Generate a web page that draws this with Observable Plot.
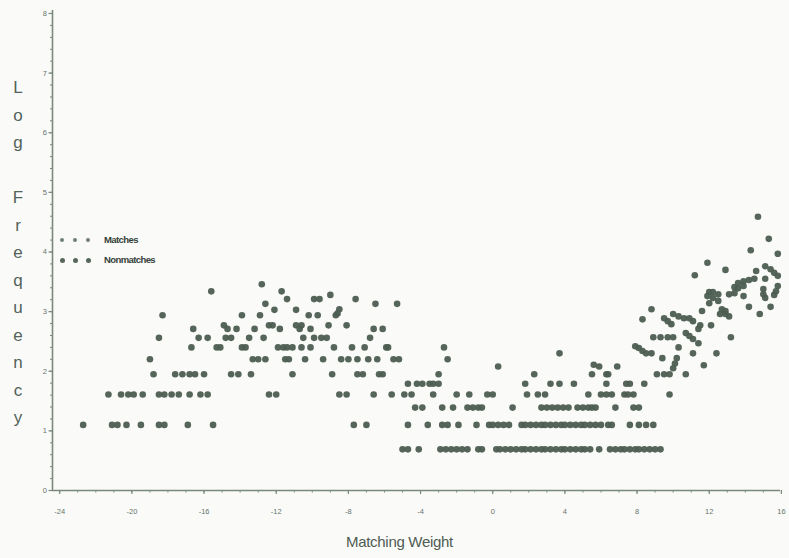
<!DOCTYPE html>
<html>
<head>
<meta charset="utf-8">
<script src="https://cdn.jsdelivr.net/npm/d3@7"></script>
<script src="https://cdn.jsdelivr.net/npm/@observablehq/plot@0.6"></script>
<style>
  html, body { margin: 0; padding: 0; background: #fafbf8; }
  #wrap { position: relative; width: 789px; height: 558px; overflow: hidden; font-family: "Liberation Sans", Arial, sans-serif; }
  #ytitle { position: absolute; left: 9px; top: 74px; width: 18px; text-align: center; white-space: pre; font-size: 17px; line-height: 27.5px; color: #53625a; }
  #xtitle { position: absolute; left: 346px; top: 533px; font-size: 15px; color: #4f5b53; letter-spacing: -0.3px; }
  .leg { position: absolute; left: 58px; height: 12px; font-size: 9.5px; color: #35413a; letter-spacing: -0.6px; font-weight: bold; }
  .leg span.d { position: absolute; top: 3px; width: 5px; height: 5px; border-radius: 50%; background: #56665a; }
  .leg span.t { position: absolute; left: 46px; top: -1px; white-space: nowrap; }
</style>
</head>
<body>
<div id="wrap">
  <div id="chart"></div>
  <div id="ytitle"></div>
  <div id="xtitle"></div>
  <div id="legend"></div>
</div>
<script>
// ---- axis ticks ----
const xTicks = [-24, -20, -16, -12, -8, -4, 0, 4, 8, 12, 16];
const yTicks = [0, 1, 2, 3, 4, 5, 6, 7, 8];
const xDomain = [-24.4, 15.95];
const yDomain = [0, 8.05];
const seriesNames = ["Matches", "Nonmatches"];
const xTitle = "Matching Weight";
const yTitle = "Log Frequency";

// ---- Nonmatches: [matching weight, log frequency] ----
const nonmatches = [
  // log 2
  [-5.0,0.69],[-4.7,0.69],[-4.1,0.69],[-2.9,0.69],[-2.6,0.69],[-2.3,0.69],[-2.0,0.69],[-1.7,0.69],[-1.4,0.69],
  [-0.8,0.69],[-0.6,0.69],[0.2,0.69],[0.4,0.69],[0.7,0.69],[1.0,0.69],[1.3,0.69],[1.6,0.69],[1.8,0.69],[2.1,0.69],
  [2.4,0.69],[2.7,0.69],[2.9,0.69],[3.2,0.69],[3.5,0.69],[3.8,0.69],[4.0,0.69],[4.3,0.69],[4.6,0.69],[4.9,0.69],
  // log 3
  [-22.7,1.10],[-21.1,1.10],[-20.8,1.10],[-20.3,1.10],[-19.5,1.10],[-18.5,1.10],[-18.2,1.10],[-16.9,1.10],[-15.5,1.10],
  [-7.7,1.10],[-7.0,1.10],[-4.7,1.10],[-3.6,1.10],[-2.8,1.10],[-2.5,1.10],[-1.9,1.10],[-0.9,1.10],[-0.2,1.10],[0.0,1.10],
  [0.3,1.10],[0.6,1.10],[0.9,1.10],[1.6,1.10],[1.8,1.10],[2.1,1.10],[2.4,1.10],[2.7,1.10],[2.9,1.10],[3.2,1.10],
  [3.5,1.10],[3.8,1.10],[4.0,1.10],[4.3,1.10],[4.6,1.10],[4.9,1.10],
  // log 4
  [-4.3,1.39],[-3.9,1.39],[-2.8,1.39],[-2.2,1.39],[-1.4,1.39],[-1.1,1.39],[-0.8,1.39],[-0.6,1.39],[1.1,1.39],
  [2.7,1.39],[3.0,1.39],[3.3,1.39],[3.6,1.39],[3.9,1.39],[4.2,1.39],[4.7,1.39],
  // log 5
  [-21.3,1.61],[-20.6,1.61],[-20.2,1.61],[-19.9,1.61],[-19.4,1.61],[-18.5,1.61],[-18.2,1.61],[-17.8,1.61],[-17.4,1.61],
  [-16.8,1.61],[-16.2,1.61],[-15.8,1.61],[-12.4,1.61],[-12.0,1.61],[-8.5,1.61],[-8.1,1.61],[-6.6,1.61],[-5.6,1.61],
  [-4.9,1.61],[-4.5,1.61],[-3.3,1.61],[-2.0,1.61],[-1.3,1.61],[-0.3,1.61],[0.0,1.61],[1.9,1.61],[2.5,1.61],[2.9,1.61],
  // log 6
  [-4.7,1.79],[-4.2,1.79],[-3.9,1.79],[-3.5,1.79],[-3.3,1.79],[-3.0,1.79],[1.8,1.79],[3.2,1.79],[3.7,1.79],[4.5,1.79],
  // log 7
  [-18.8,1.95],[-17.6,1.95],[-17.2,1.95],[-16.8,1.95],[-16.5,1.95],[-16.0,1.95],[-14.5,1.95],[-14.1,1.95],[-13.4,1.95],
  [-11.1,1.95],[-8.9,1.95],[-7.5,1.95],[-7.2,1.95],[-6.3,1.95],[-6.1,1.95],[-3.0,1.95],[2.3,1.95],
  // log 8 - 10
  [0.3,2.08],
  [-19.0,2.20],[-13.3,2.20],[-13.0,2.20],[-12.6,2.20],[-11.5,2.20],[-11.3,2.20],[-10.4,2.20],[-9.4,2.20],[-8.4,2.20],
  [-8.0,2.20],[-7.5,2.20],[-6.9,2.20],[-6.4,2.20],[-5.5,2.20],[-5.2,2.20],[-2.5,2.20],
  [3.7,2.30],
  // log 11
  [-16.7,2.40],[-15.3,2.40],[-15.1,2.40],[-13.9,2.40],[-13.7,2.40],[-11.9,2.40],[-11.6,2.40],[-11.4,2.40],[-11.1,2.40],
  [-10.6,2.40],[-10.1,2.40],[-8.8,2.40],[-7.8,2.40],[-7.1,2.40],[-5.9,2.40],[-5.8,2.40],[-2.7,2.40],
  // log 13
  [-18.5,2.56],[-16.3,2.56],[-15.8,2.56],[-14.8,2.56],[-14.5,2.56],[-13.5,2.56],[-12.7,2.56],[-10.5,2.56],[-9.9,2.56],
  [-9.5,2.56],[-9.2,2.56],[-6.8,2.56],
  // log 15
  [-16.6,2.71],[-14.7,2.71],[-14.2,2.71],[-13.2,2.71],[-11.8,2.71],[-10.7,2.71],[-10.1,2.71],[-6.6,2.71],[-6.1,2.71],
  // log 16
  [-14.9,2.77],[-12.4,2.77],[-12.2,2.77],[-10.9,2.77],[-10.6,2.77],[-9.1,2.77],[-8.1,2.77],
  // log 19
  [-18.3,2.94],[-13.9,2.94],[-12.9,2.94],[-10.2,2.94],[-9.7,2.94],[-8.7,2.94],
  // higher
  [-15.6,3.34],[-12.8,3.46],[-11.7,3.34],[-11.4,3.21],[-9.9,3.21],[-9.6,3.21],[-9.0,3.28],[-7.6,3.21],[-6.5,3.13],
  [-5.3,3.13],[-12.6,3.13],[-12.1,3.03],[-10.9,3.03],[-8.5,3.04],[-8.6,2.97]
];

// ---- Matches: [matching weight, log frequency] ----
const matches = [
  [5.1,0.69],[5.4,0.69],[5.9,0.69],[6.5,0.69],[6.8,0.69],[7.1,0.69],[7.3,0.69],[7.6,0.69],[7.9,0.69],[8.1,0.69],
  [8.4,0.69],[8.7,0.69],[9.0,0.69],[9.3,0.69],
  [5.1,1.10],[5.4,1.10],[5.7,1.10],[6.0,1.10],[6.4,1.10],[6.6,1.10],[7.6,1.10],[8.1,1.10],[8.5,1.10],[8.9,1.10],
  [5.0,1.39],[5.3,1.39],[5.5,1.39],[5.7,1.39],[6.8,1.39],[7.8,1.39],[8.1,1.39],
  [5.3,1.61],[6.0,1.61],[6.3,1.61],[6.6,1.61],[7.3,1.61],[7.5,1.61],[7.8,1.61],[9.8,1.61],
  [6.3,1.79],[7.4,1.79],[7.6,1.79],[8.4,1.79],
  [5.5,1.95],[6.3,1.95],[6.4,1.95],[9.1,1.95],[9.5,1.95],[9.8,1.95],[10.7,1.95],
  [5.6,2.11],[5.9,2.08],[6.9,2.08],[10.0,2.05],[10.1,2.13],[11.7,2.10],
  [9.4,2.22],[10.2,2.22],
  [8.5,2.30],[8.8,2.30],[11.1,2.30],[12.4,2.30],
  [8.1,2.39],[10.3,2.40],[7.9,2.42],[8.3,2.34],
  [11.4,2.47],
  [8.9,2.57],[9.3,2.57],[9.7,2.57],[10.0,2.57],[10.9,2.59],[13.2,2.57],[11.1,2.54],
  [10.7,2.64],[11.4,2.71],
  [9.9,2.79],[11.5,2.77],[12.1,2.77],
  [9.7,2.84],[11.1,2.84],
  [8.3,2.87],[9.5,2.89],[10.6,2.89],[10.9,2.89],
  [10.3,2.92],[10.0,2.96],[13.1,2.92],[14.8,2.96],
  [8.8,3.04],[11.6,3.01],[12.7,3.04],[12.9,2.96],[12.6,2.96],[12.9,3.01],
  [14.2,3.08],[15.4,3.08],[12.0,3.14],[12.5,3.18],
  [11.9,3.26],[12.2,3.23],[13.1,3.29],[13.4,3.31],[13.9,3.26],[12.0,3.33],[12.2,3.33],[12.5,3.29],
  [15.0,3.38],[15.0,3.29],[15.1,3.23],[15.8,3.43],[15.7,3.34],[15.6,3.28],
  [13.4,3.41],[13.6,3.39],[13.9,3.43],
  [13.6,3.48],[13.9,3.51],[14.2,3.53],[14.5,3.55],[15.1,3.55],
  [11.2,3.61],[12.9,3.70],[14.6,3.68],[15.1,3.76],[15.4,3.71],[15.6,3.65],[15.8,3.60],
  [11.9,3.82],[15.8,3.97],[14.3,4.03],[15.3,4.22],[14.7,4.59]
];

const dotColor = "#4d5d51";
const axisColor = "#7b887e";
const labelColor = "#66736a";

const chart = Plot.plot({
  width: 789,
  height: 558,
  marginLeft: 52,
  marginRight: 9,
  marginTop: 10,
  marginBottom: 68,
  style: { background: "transparent", fontFamily: "'Liberation Sans', Arial, sans-serif" },
  x: { domain: xDomain, axis: null },
  y: { domain: yDomain, axis: null },
  marks: [
    Plot.ruleY([yDomain[0]], { stroke: axisColor, strokeWidth: 1.6 }),
    Plot.ruleX([xDomain[0]], { stroke: axisColor, strokeWidth: 1.6 }),
    Plot.axisX(d3.range(-24, 17, 1), { tickSize: 2.5, text: null, stroke: axisColor }),
    Plot.axisX(xTicks, { tickSize: 4, tickPadding: 14, tickFormat: d => String(d), fontSize: 7.5, fill: labelColor, stroke: axisColor, strokeWidth: 1.2 }),
    Plot.axisY(d3.range(0, 8.01, 0.2), { tickSize: 2, text: null, stroke: axisColor }),
    Plot.axisY(yTicks, { tickSize: 3.5, tickPadding: 2, tickFormat: d => String(d), fontSize: 7.5, fill: labelColor, stroke: axisColor, strokeWidth: 1.2 }),
    Plot.dot(nonmatches, { x: d => d[0], y: d => d[1], r: 3.3, fill: dotColor, stroke: "none", fillOpacity: 0.95 }),
    Plot.dot(matches, { x: d => d[0], y: d => d[1], r: 3.3, fill: dotColor, stroke: "none", fillOpacity: 0.95 })
  ]
});
document.getElementById("chart").appendChild(chart);

document.getElementById("ytitle").textContent = yTitle.split("").join("\n");
document.getElementById("xtitle").textContent = xTitle;

const legend = document.getElementById("legend");
seriesNames.forEach((name, i) => {
  const row = document.createElement("div");
  row.className = "leg";
  row.style.top = (235 + i * 20) + "px";
  [0, 13, 26].forEach(dx => {
    const d = document.createElement("span");
    d.className = "d";
    d.style.left = (dx + 2) + "px";
    if (i === 0) { d.style.width = "4px"; d.style.height = "4px"; d.style.background = "#6f7f73"; }
    row.appendChild(d);
  });
  const t = document.createElement("span");
  t.className = "t";
  t.textContent = name;
  row.appendChild(t);
  legend.appendChild(row);
});
</script>
</body>
</html>
